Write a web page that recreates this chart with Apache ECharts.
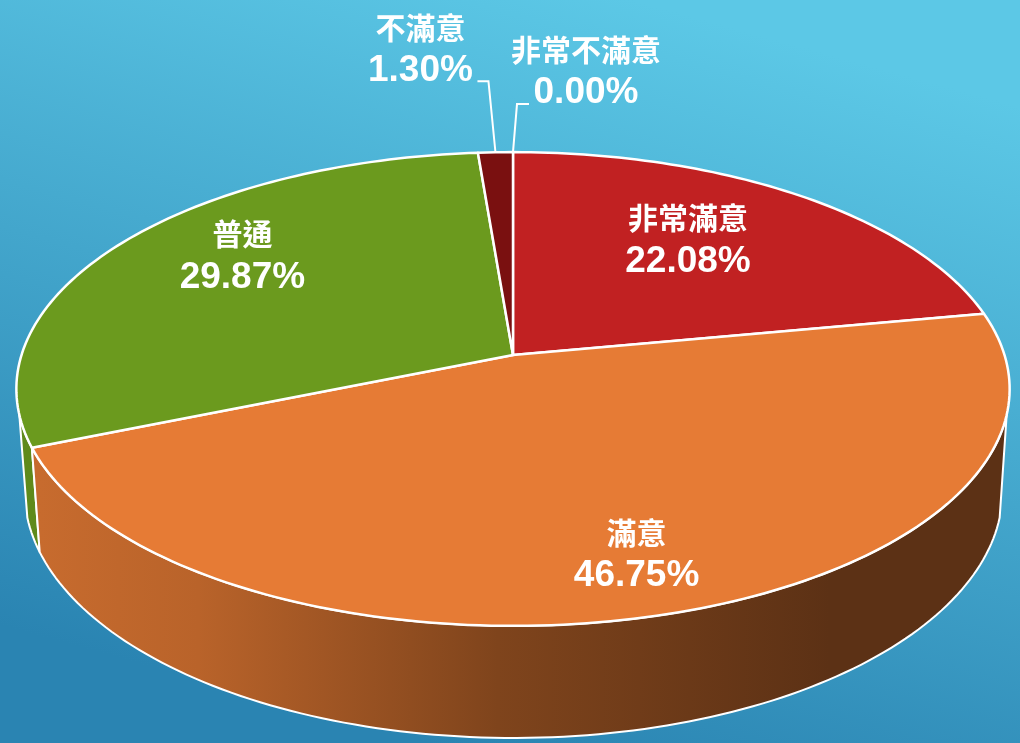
<!DOCTYPE html>
<html>
<head>
<meta charset="utf-8">
<style>html,body{margin:0;padding:0;background:#3a9cc6}#c{width:1020px;height:743px}</style>
<script src="https://cdn.jsdelivr.net/npm/echarts@6/dist/echarts.min.js"></script>
</head>
<body>
<div id="c"></div>
<script>
// --- data ---
const categories = ['非常滿意', '滿意', '普通', '不滿意', '非常不滿意'];
const shares = [22.08, 46.75, 29.87, 1.30, 0.00];
// --- style ---
const faceColors = ['#C12122', '#E67B35', '#6B9A1E', '#7A1010', '#4A7FB0'];
const wallColors = ['#7A1414', null, '#5F8A1B', '#4E0A0A', '#2F5575'];
// --- layout: label placement relative to the slice's rim midpoint ---
const labelOffsets = [[-108, 45], [-37, -59], [119, 14], [-75, -103], [73, -81]];
const leaderOffsets = [null, null, null, [[-7, -71], [-18, -71]], [[4, -48], [16, -48]]];
// perspective disc parameters
const topDisc = {cx: 513, cy: 355, a: 491.5, b: 232};
const baseDisc = {cx: 513.5, cy: 455.4, a: 484, b: 242};
const persp = 0.1435;
// part of the turn (in percent) where the side wall faces the viewer
const wallFrom = 29, wallTo = 71;

function project(disc, pct) {
  const t = pct / 100 * 2 * Math.PI;
  const x = Math.sin(t), y = -Math.cos(t), d = 1 - persp * y;
  return [disc.cx + disc.a * x / d, disc.cy + disc.b * y / d];
}
function arc(disc, from, to) {
  const pts = [], n = Math.max(2, Math.ceil((to - from) * 3));
  for (let i = 0; i <= n; i++) pts.push(project(disc, from + (to - from) * i / n));
  return pts;
}
const orangeWall = new echarts.graphic.LinearGradient(40, 0, 830, 0, [
  {offset: 0, color: '#C76B2E'},
  {offset: 0.2, color: '#B9632A'},
  {offset: 0.58, color: '#7F441C'},
  {offset: 1, color: '#5C3115'}
], true);

function renderSlice(params, api) {
  const i = params.dataIndex, v = api.value(0);
  let start = 0;
  for (let k = 0; k < i; k++) start += shares[k];
  const end = start + v, children = [];
  if (v > 0) {
    const wa = Math.max(start, wallFrom), wb = Math.min(end, wallTo);
    if (wb > wa) {
      const topArc = arc(topDisc, wa, wb), baseArc = arc(baseDisc, wa, wb);
      children.push({
        type: 'polygon', z2: i === 1 ? 2 : 1,
        shape: {points: topArc.concat(baseArc.slice().reverse())},
        style: {fill: wallColors[i] || orangeWall, stroke: '#fff', lineWidth: 2, lineJoin: 'round'}
      });
    }
    children.push({
      type: 'polygon', z2: 3,
      shape: {points: [[topDisc.cx, topDisc.cy]].concat(arc(topDisc, start, end))},
      style: {fill: faceColors[i], stroke: '#fff', lineWidth: 2.5, lineJoin: 'round'}
    });
  }
  const rim = project(topDisc, start + v / 2);
  const off = labelOffsets[i], lx = rim[0] + off[0], ly = rim[1] + off[1];
  if (leaderOffsets[i]) {
    const pts = [rim].concat(leaderOffsets[i].map(o => [rim[0] + o[0], rim[1] + o[1]]));
    children.push({type: 'polyline', z2: 4, shape: {points: pts},
      style: {fill: null, stroke: '#fff', lineWidth: 2}});
  }
  const shadow = {shadowColor: 'rgba(0,0,0,0.55)', shadowBlur: 3, shadowOffsetX: 2, shadowOffsetY: 2};
  children.push({
    type: 'text', z2: 5, x: lx, y: ly - 22,
    style: Object.assign({text: categories[i], fill: '#fff', align: 'center', verticalAlign: 'middle',
      font: '700 30px "Noto Sans CJK TC"'}, shadow)
  });
  children.push({
    type: 'text', z2: 5, x: lx, y: ly + 22,
    style: Object.assign({text: v.toFixed(2) + '%', fill: '#fff', align: 'center', verticalAlign: 'middle',
      font: '700 37px "Liberation Sans"'}, shadow)
  });
  return {type: 'group', children};
}

const chart = echarts.init(document.getElementById('c'), null, {renderer: 'canvas'});
chart.setOption({
  animation: false,
  backgroundColor: new echarts.graphic.LinearGradient(0.62, 0, 0.42, 1, [
    {offset: 0, color: '#5CC8E6'},
    {offset: 1, color: '#2A84B2'}
  ]),
  series: [{
    type: 'custom',
    coordinateSystem: 'none',
    silent: true,
    renderItem: renderSlice,
    data: categories.map((c, i) => ({name: c, value: [shares[i]]}))
  }]
});
</script>
</body>
</html>
